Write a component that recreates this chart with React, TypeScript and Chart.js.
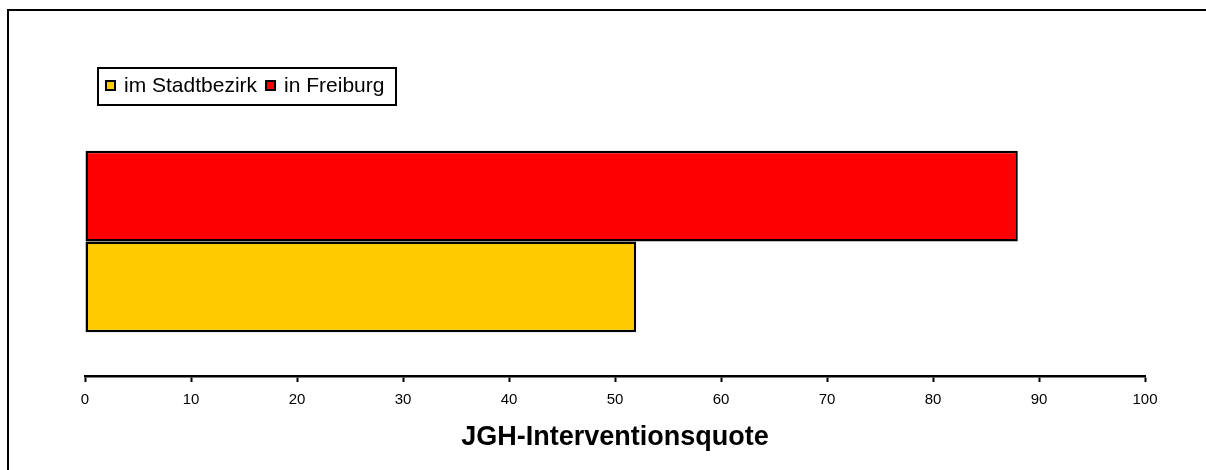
import React, { useEffect, useRef } from "react";
import { Chart, registerables } from "chart.js";

Chart.register(...registerables);

// ---- data ----
const categories: string[] = ["JGH"];
const seriesLabels: string[] = ["in Freiburg", "im Stadtbezirk"];
const freiburgValues: number[] = [88];
const stadtbezirkValues: number[] = [52];
const xTickValues: number[] = [0, 10, 20, 30, 40, 50, 60, 70, 80, 90, 100];
const seriesColors: string[] = ["#FF0000", "#FFCC00"];
const axisTitle = "JGH-Interventionsquote";

const FONT = '"Liberation Sans", Arial, Helvetica, sans-serif';

const boxedLegend = {
  id: "boxedLegend",
  afterDraw(chart: any) {
    const ctx = chart.ctx as CanvasRenderingContext2D;
    ctx.save();
    const left = 97, top = 67, right = 397, bottom = 106;
    ctx.fillStyle = "#ffffff";
    ctx.fillRect(left, top, right - left, bottom - top);
    ctx.lineWidth = 2;
    ctx.strokeStyle = "#000000";
    ctx.strokeRect(left + 1, top + 1, right - left - 2, bottom - top - 2);
    ctx.font = "21px " + FONT;
    const items = chart.data.datasets
      .map((ds: any) => ({ label: ds.label, color: ds.backgroundColor }))
      .reverse();
    let x = 105;
    const sqY = 80;
    items.forEach((it: any) => {
      ctx.fillStyle = "#000000";
      ctx.fillRect(x, sqY, 11, 11);
      ctx.fillStyle = it.color;
      ctx.fillRect(x + 2, sqY + 2, 7, 7);
      x += 11 + 8;
      ctx.fillStyle = "#000000";
      ctx.textBaseline = "alphabetic";
      ctx.textAlign = "left";
      ctx.fillText(it.label, x, 92);
      x += ctx.measureText(it.label).width + 8;
    });
    ctx.restore();
  },
};

export default function App() {
  const canvasRef = useRef<HTMLCanvasElement | null>(null);

  useEffect(() => {
    const canvas = canvasRef.current;
    if (!canvas) return;
    const chart = new Chart(canvas, {
      type: "bar",
      data: {
        labels: categories,
        datasets: [
          {
            label: seriesLabels[0],
            data: freiburgValues,
            backgroundColor: seriesColors[0],
            borderColor: "#000000",
            borderWidth: 2.5,
            borderSkipped: false,
            barPercentage: 1,
            categoryPercentage: 0.674,
          },
          {
            label: seriesLabels[1],
            data: stadtbezirkValues,
            backgroundColor: seriesColors[1],
            borderColor: "#000000",
            borderWidth: 2.5,
            borderSkipped: false,
            barPercentage: 1,
            categoryPercentage: 0.674,
          },
        ],
      },
      options: {
        indexAxis: "y",
        animation: false,
        responsive: false,
        maintainAspectRatio: false,
        devicePixelRatio: 1,
        layout: { padding: { left: 85, right: 61, top: 107, bottom: 16.6 } },
        plugins: {
          legend: { display: false },
          tooltip: { enabled: false },
          title: { display: false },
        },
        scales: {
          x: {
            type: "linear",
            min: 0,
            max: 100,
            afterBuildTicks: (scale: any) => {
              scale.ticks = xTickValues.map((v) => ({ value: v }));
            },
            grid: {
              display: true,
              drawOnChartArea: false,
              drawTicks: true,
              tickLength: 6,
              tickWidth: 2,
              tickColor: "#000000",
            },
            border: { display: true, color: "#000000", width: 2.5 },
            ticks: {
              color: "#000000",
              padding: 9,
              maxRotation: 0,
              autoSkip: false,
              font: { family: FONT, size: 15 },
            },
            title: {
              display: true,
              text: axisTitle,
              color: "#000000",
              padding: { top: 3, bottom: 0 },
              font: { family: FONT, size: 27, weight: "bold" },
            },
          },
          y: {
            type: "category",
            display: false,
          },
        },
      },
      plugins: [boxedLegend],
    });
    return () => chart.destroy();
  }, []);

  return (
    <div style={{ position: "fixed", left: 0, top: 0, width: 1206, height: 470, overflow: "hidden", background: "#ffffff" }}>
      <div
        style={{
          position: "absolute",
          left: 7,
          top: 9,
          width: 1300,
          height: 600,
          border: "2px solid #000000",
          boxSizing: "border-box",
        }}
      />
      <canvas
        ref={canvasRef}
        width={1206}
        height={470}
        style={{ position: "absolute", left: 0, top: 0, width: 1206, height: 470 }}
      />
    </div>
  );
}
